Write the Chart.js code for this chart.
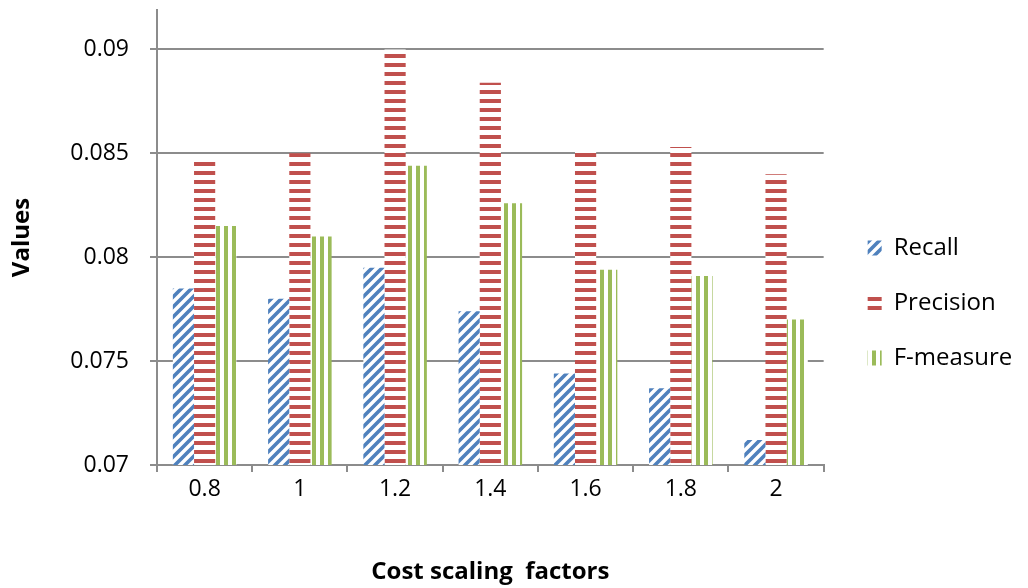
<!DOCTYPE html>
<html lang="en">
<head>
    <meta charset="UTF-8">
    <title>Cost scaling factors</title>
    <style>
        body {
            margin: 0;
            padding: 0;
            background-color: #ffffff;
        }
        .chart-container {
            position: relative;
            width: 1028px;
            height: 588px;
        }
    </style>
</head>
<body>
    <div class="chart-container">
        <canvas id="scalingChart"></canvas>
    </div>

    <script src="https://cdn.jsdelivr.net/npm/chart.js"></script>
    <script>
        // data
        const factors = ['0.8', '1', '1.2', '1.4', '1.6', '1.8', '2'];
        const recall = [0.0785, 0.0780, 0.0795, 0.0774, 0.0744, 0.0737, 0.0712];
        const precision = [0.0848, 0.0850, 0.0900, 0.0884, 0.0852, 0.0853, 0.0840];
        const fMeasure = [0.0815, 0.0810, 0.0844, 0.0826, 0.0794, 0.0791, 0.0770];
        const yTicks = [0.07, 0.075, 0.08, 0.085, 0.09];

        const fontFamily = '"Open Sans", Arial, sans-serif';
        const gridColor = '#8c8c8c';

        // striped fills like the old office chart patterns (white behind the stripes)
        function makePattern(kind, color) {
            const c = document.createElement('canvas');
            const ctx = c.getContext('2d');
            if (kind === 'diagonal') {
                const s = 10;
                c.width = s; c.height = s;
                ctx.fillStyle = '#ffffff';
                ctx.fillRect(0, 0, s, s);
                ctx.strokeStyle = color;
                ctx.lineWidth = 3.6;
                ctx.beginPath();
                ctx.moveTo(-s / 2, s / 2); ctx.lineTo(s / 2, -s / 2);
                ctx.moveTo(0, s); ctx.lineTo(s, 0);
                ctx.moveTo(s / 2, s * 1.5); ctx.lineTo(s * 1.5, s / 2);
                ctx.stroke();
            } else if (kind === 'horizontal') {
                c.width = 9; c.height = 9;
                ctx.fillStyle = '#ffffff';
                ctx.fillRect(0, 0, 9, 9);
                ctx.fillStyle = color;
                ctx.fillRect(0, 0, 9, 4);
            } else {
                c.width = 8; c.height = 8;
                ctx.fillStyle = '#ffffff';
                ctx.fillRect(0, 0, 8, 8);
                ctx.fillStyle = color;
                ctx.fillRect(0, 0, 4, 8);
            }
            return ctx.createPattern(c, 'repeat');
        }

        const recallFill = makePattern('diagonal', '#4f81bd');
        const precisionFill = makePattern('horizontal', '#c0504d');
        const fFill = makePattern('vertical', '#9bbb59');

        // the legend clips to its own box; let the long label run to the canvas edge
        const legendRoom = {
            id: 'legendRoom',
            afterLayout(chart) {
                if (chart.legend) {
                    chart.legend.right = chart.width;
                }
            }
        };

        const ctx = document.getElementById('scalingChart').getContext('2d');
        const scalingChart = new Chart(ctx, {
            type: 'bar',
            data: {
                labels: factors,
                datasets: [
                    { label: 'Recall', data: recall, backgroundColor: recallFill, borderWidth: 0 },
                    { label: 'Precision', data: precision, backgroundColor: precisionFill, borderWidth: 0 },
                    { label: 'F-measure', data: fMeasure, backgroundColor: fFill, borderWidth: 0 }
                ]
            },
            plugins: [legendRoom],
            options: {
                responsive: true,
                maintainAspectRatio: false,
                animation: false,
                categoryPercentage: 0.667,
                barPercentage: 1.0,
                layout: {
                    // legend width ends up capped at (1028 - 24) / 6
                    padding: { top: 10, right: 24, bottom: 0, left: 0 }
                },
                scales: {
                    x: {
                        grid: {
                            offset: true,
                            drawOnChartArea: false,
                            color: gridColor,
                            lineWidth: 2,
                            tickLength: 7
                        },
                        border: { color: gridColor, width: 2 },
                        ticks: {
                            color: '#000000',
                            padding: 4,
                            font: { family: fontFamily, size: 23 }
                        },
                        title: {
                            display: true,
                            text: 'Cost scaling  factors',
                            color: '#000000',
                            padding: { top: 0, bottom: 1 },
                            font: { family: fontFamily, size: 24, weight: 'bold' }
                        },
                        afterFit: function(scale) {
                            scale.height = 123;
                            scale.paddingLeft = 0;
                            scale.paddingRight = 0;
                        }
                    },
                    y: {
                        min: 0.07,
                        max: 0.0919,
                        afterBuildTicks: function(scale) {
                            scale.ticks = yTicks.map(v => ({ value: v }));
                        },
                        grid: {
                            color: gridColor,
                            lineWidth: 2,
                            tickLength: 7
                        },
                        border: { color: gridColor, width: 2 },
                        ticks: {
                            color: '#000000',
                            padding: 21,
                            font: { family: fontFamily, size: 23 },
                            callback: function(value) {
                                return String(parseFloat(value.toFixed(3)));
                            }
                        },
                        title: {
                            display: true,
                            text: 'Values',
                            color: '#000000',
                            padding: { top: 8, bottom: 0 },
                            font: { family: fontFamily, size: 24, weight: 'bold' }
                        },
                        afterFit: function(scale) {
                            scale.width = 157;
                            // no room kept for a label above the top tick
                            scale.paddingTop = 0;
                            scale.paddingBottom = 0;
                        }
                    },
                    // empty axis, only keeps a gap between the plot and the legend
                    gap: {
                        position: 'right',
                        grid: { display: false },
                        border: { display: false },
                        ticks: { display: false },
                        afterFit: function(scale) {
                            scale.width = 13;
                            scale.paddingTop = 0;
                            scale.paddingBottom = 0;
                        }
                    }
                },
                plugins: {
                    legend: {
                        position: 'right',
                        title: {
                            display: true,
                            text: ' ',
                            font: { size: 1 },
                            padding: { top: 7, bottom: 0 }
                        },
                        labels: {
                            boxWidth: 14,
                            boxHeight: 15,
                            padding: 31,
                            color: '#000000',
                            font: { family: fontFamily, size: 24 }
                        }
                    },
                    tooltip: { enabled: false }
                }
            }
        });
    </script>
</body>
</html>
